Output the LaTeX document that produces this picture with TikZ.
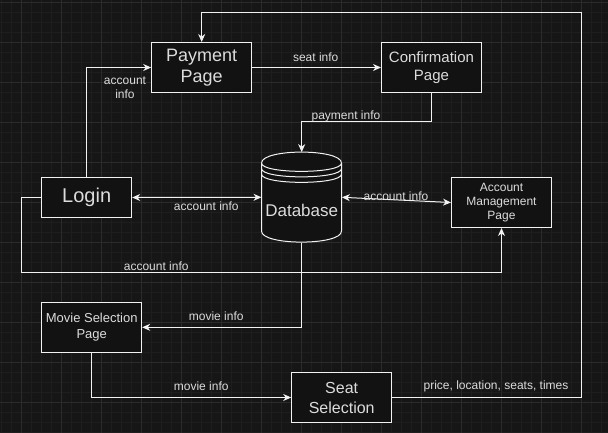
\documentclass[tikz,border=0pt]{standalone}
\usepackage{fontspec}
\setmainfont{Liberation Sans}
\usetikzlibrary{arrows.meta}
\definecolor{bgc}{HTML}{161616}
\definecolor{boxfill}{HTML}{121212}
\definecolor{minorgrid}{HTML}{1E1E1E}
\definecolor{majorgrid}{HTML}{2B2B2B}
\definecolor{linec}{HTML}{F2F2F2}
\definecolor{textc}{HTML}{DCDCDC}
\tikzset{
  box/.style={draw=linec, fill=boxfill, line width=1pt, inner sep=0pt, align=center, text=textc},
  conn/.style={draw=linec, line width=1pt, -{Stealth[length=8pt,width=7pt,inset=2.5pt]}},
  dconn/.style={draw=linec, line width=1pt, {Stealth[length=8pt,width=7pt,inset=2.5pt]}-{Stealth[length=8pt,width=7pt,inset=2.5pt]}},
  lbl/.style={text=textc, inner sep=0pt, font=\fontsize{12}{14}\selectfont, align=center}
}
\begin{document}
\begin{tikzpicture}[x=1pt, y=-1pt]
\useasboundingbox (0,0) rectangle (608,433);
\fill[bgc] (0,0) rectangle (608,433);
\foreach \x in {1.7,11.7,...,601.7} \draw[minorgrid, line width=0.8pt] (\x,0) -- (\x,433);
\foreach \y in {2.7,12.7,...,432.7} \draw[minorgrid, line width=0.8pt] (0,\y) -- (608,\y);
\foreach \x in {21.7,61.7,...,581.7} \draw[majorgrid, line width=0.8pt] (\x,0) -- (\x,433);
\foreach \y in {2.7,42.7,...,402.7} \draw[majorgrid, line width=0.8pt] (0,\y) -- (608,\y);

% nodes
\node[box, minimum width=100pt, minimum height=50pt, font=\fontsize{18}{21}\selectfont] (pay) at (201.7,67.5) {Payment\\Page};
\node[box, minimum width=100pt, minimum height=50pt, font=\fontsize{15}{18}\selectfont] (conf) at (431.5,67.5) {Confirmation\\Page};
\node[box, minimum width=90pt, minimum height=40pt, font=\fontsize{20}{24}\selectfont] (login) at (86.7,197.5) {Login};
\node[box, minimum width=100pt, minimum height=50pt, font=\fontsize{12}{14}\selectfont] (amp) at (501.5,202.5) {Account\\Management\\Page};
\node[box, minimum width=100pt, minimum height=50pt, font=\fontsize{13}{16.5}\selectfont] (ms) at (91.7,327.3) {Movie Selection\\Page};
\node[box, minimum width=100pt, minimum height=50pt, font=\fontsize{16}{20}\selectfont] (ss) at (341.7,397.5) {Seat\\Selection};
\node[inner sep=0pt, minimum width=80pt, minimum height=90pt] (db) at (301.7,197.3) {};

% database shape
\begin{scope}[shift={(db.north west)}]
  \filldraw[draw=linec, fill=boxfill, line width=1pt]
    (0,11) .. controls (0,-3.67) and (80,-3.67) .. (80,11) -- (80,79)
    .. controls (80,93.67) and (0,93.67) .. (0,79) -- cycle;
  \draw[linec, line width=1pt] (0,11) .. controls (0,22) and (80,22) .. (80,11);
  \draw[linec, line width=1pt] (0,16.5) .. controls (0,27.5) and (80,27.5) .. (80,16.5);
  \draw[linec, line width=1pt] (0,22) .. controls (0,33) and (80,33) .. (80,22);
\end{scope}
\node[text=textc, font=\fontsize{17}{20}\selectfont, inner sep=0pt] (dbtext) at (301.7,210) {Database};

% helper coordinates
\coordinate (c1) at (581.3,12.5);
\coordinate (c2) at (301.7,122);
\coordinate (c3) at (21.7,272.3);

% connectors
\draw[conn] (ss.east) -| (c1) -| (pay.north);
\draw[conn] (login.north) |- (pay.west);
\draw[conn] (pay.east) -- (conf.west);
\draw[conn] (conf.south) |- (c2) -- (db.north);
\draw[dconn] (login.east) -- (db.west);
\draw[dconn] (db.east) -- (amp.west);
\draw[conn] (login.west) -| (c3) -| (amp.south);
\draw[conn] (db.south) |- (ms.east);
\draw[conn] (ms.south) |- (ss.west);

% labels
\node[lbl] (l1) at (125,87.5) {account\\info};
\node[lbl] (l2) at (315.7,57) {seat info};
\node[lbl] (l3) at (346,116.7) {payment info};
\node[lbl] (l4) at (206.3,206.7) {account info};
\node[lbl] (l5) at (396,196.7) {account info};
\node[lbl] (l6) at (156.2,266.7) {account info};
\node[lbl] (l7) at (216.2,316.7) {movie info};
\node[lbl] (l8) at (201.2,386.7) {movie info};
\node[lbl] (l9) at (496,386.7) {price, location, seats, times};
\end{tikzpicture}
\end{document}
